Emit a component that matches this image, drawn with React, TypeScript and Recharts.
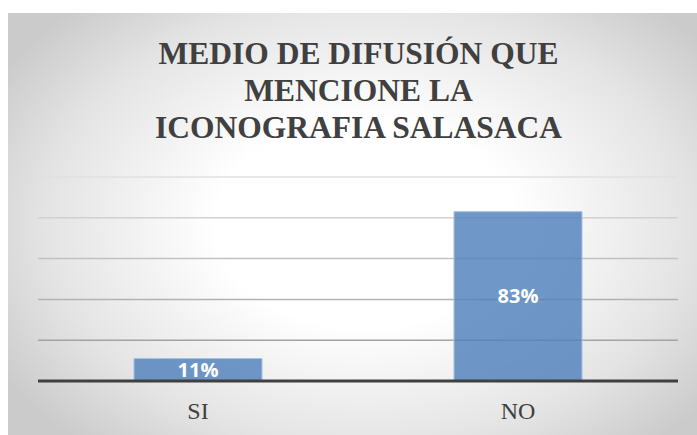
import React from 'react';
import { BarChart, Bar, XAxis, YAxis, CartesianGrid, LabelList } from 'recharts';

const categories = ['SI', 'NO'];
const percentages = [11, 83];
const yTicks = [0, 20, 40, 60, 80, 100];
const titleLines = ['MEDIO DE DIFUSIÓN QUE', 'MENCIONE LA', 'ICONOGRAFIA SALASACA'];

const data = categories.map((name, i) => ({ name, value: percentages[i] }));

const serif = '"Liberation Serif", "DejaVu Serif", "Times New Roman", serif';

export default function App() {
  return (
    <div
      style={{
        position: 'absolute',
        left: 8,
        top: 13,
        width: 689,
        height: 422,
        background: 'radial-gradient(ellipse 62% 70% at 52% 50%, #ffffff 0%, #ffffff 35%, #e4e4e4 75%, #cbcbcb 100%)',
        overflow: 'hidden',
      }}
    >
      <div
        style={{
          position: 'absolute',
          left: 6,
          top: 22,
          width: 689,
          textAlign: 'center',
          fontFamily: serif,
          fontWeight: 'bold',
          fontSize: 31.5,
          lineHeight: '37px',
          color: '#404040',
        }}
      >
        {titleLines.map((t) => (
          <div key={t}>{t}</div>
        ))}
      </div>
      <BarChart
        width={689}
        height={422}
        data={data}
        margin={{ top: 164, right: 19, left: 30, bottom: 14 }}
        barCategoryGap="30%"
      >
        <defs>
          <linearGradient id="gridGrad" gradientUnits="userSpaceOnUse" x1="0" y1="160" x2="0" y2="345">
            <stop offset="0%" stopColor="#e2e2e2" />
            <stop offset="100%" stopColor="#9c9c9c" />
          </linearGradient>
        </defs>
        <CartesianGrid vertical={false} stroke="url(#gridGrad)" strokeWidth={1.5} />
        <YAxis hide domain={[0, 100]} ticks={yTicks} />
        <XAxis
          dataKey="name"
          height={40}
          axisLine={{ stroke: '#404040', strokeWidth: 3 }}
          tickLine={false}
          tick={{ fontSize: 24, fill: '#404040', fontFamily: serif }}
          dy={13}
        />
        <Bar
          dataKey="value"
          fill="#4f81bd"
          fillOpacity={0.82}
          stroke="#a7bfe0"
          strokeWidth={1}
          isAnimationActive={false}
        >
          <LabelList
            dataKey="value"
            position="center"
            formatter={(v: any) => `${v}%`}
            style={{ fill: '#ffffff', fontSize: 20, fontWeight: 'bold', fontFamily: '"Open Sans", "Noto Sans", sans-serif' }}
          />
        </Bar>
      </BarChart>
    </div>
  );
}
